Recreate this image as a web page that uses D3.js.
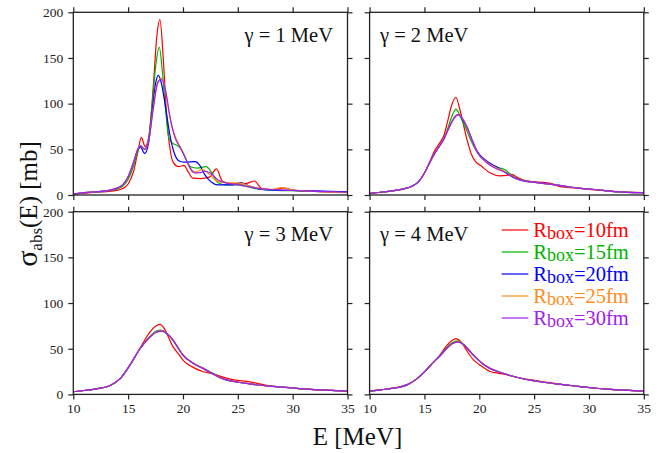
<!DOCTYPE html>
<html>
<head>
<meta charset="utf-8">
<script src="https://cdn.jsdelivr.net/npm/d3@7"></script>
<style>
  body { margin: 0; background: #fff; }
  svg { display: block; font-family: "Liberation Serif", "DejaVu Serif", "Times New Roman", serif; }
</style>
</head>
<body>
<svg id="chart" width="672" height="453"></svg>
<script>
// axis ticks
const xTicks = [10, 15, 20, 25, 30, 35];
const yTicks = [0, 50, 100, 150, 200];

// legend
const boxSizes = [10, 15, 20, 25, 30];
const colors = ["#ff0000", "#00b400", "#0000ff", "#ff8c1a", "#a020f0"];
const gammas = [1, 2, 3, 4];

// gamma = 1 MeV  [E, sigma]
const g1_r10 = [[10,1],[11,2],[12,3],[13,3.8],[14,5],[14.5,7],[15,12],[15.5,26],[15.9,48],[16.2,63],[16.55,53],[16.9,65],[17.3,120],[17.6,172],[17.9,192],[18.2,150],[18.5,88],[18.8,52],[19.1,36],[19.6,31],[20.1,32.5],[20.4,27],[20.9,18.5],[21.6,18],[22.4,19.5],[23.05,28.5],[23.6,15],[24.3,12.5],[25.3,12],[25.9,13],[26.5,15.3],[27.2,7],[28.2,5.8],[29.2,7.5],[30.2,5],[32,4],[35,3]];
const g1_r15 = [[10,1],[11,2.2],[12,3.5],[13,4.3],[14,6.5],[14.5,9.5],[15,17],[15.5,32],[15.95,50],[16.2,53],[16.5,50],[16.85,60],[17.2,100],[17.55,145],[17.84,162],[18.1,138],[18.4,95],[18.7,63],[19,57],[19.5,54],[19.9,49],[20.3,38],[20.7,31],[21.3,29.5],[22.1,31],[22.6,25],[23.2,13.5],[24,11],[25.2,11],[26.2,8],[27.2,6],[28.5,5],[30.5,4.5],[32,4],[35,2.8]];
const g1_r20 = [[10,1],[11,2.5],[12,3.5],[13,4.5],[14,7.5],[14.5,11],[15,20],[15.5,36],[15.9,50],[16.1,53],[16.5,45.5],[16.85,56],[17.2,92],[17.5,122],[17.75,131],[18,124],[18.4,97],[18.8,66],[19.2,46],[19.7,37],[20.2,36],[21.1,36.5],[21.5,33],[22,22],[22.6,14],[23.2,11],[24.5,11],[25.3,13.5],[26,10],[27,6.5],[28,5.5],[30,5],[32,4.5],[35,3.5]];
const g1_r25 = [[10,1],[11,2.5],[12,3.5],[13,4.5],[14,7.5],[14.5,11],[15,20],[15.5,36],[15.9,51],[16.1,54],[16.5,50],[16.85,58],[17.25,92],[17.65,122],[18,128],[18.3,121],[18.7,92],[19.2,67],[19.6,56],[20.2,42],[20.6,30],[20.9,25],[21.3,25.5],[21.75,28],[22.2,25],[23.2,14.6],[24,13.5],[25.3,13],[26,10],[27,7],[28,6],[29,8],[30,5.5],[32,4],[35,2.5]];
const g1_r30 = [[10,1],[11,2.5],[12,3.5],[13,4.5],[14,7.5],[14.5,11],[15,20],[15.5,36],[15.9,51],[16.1,54],[16.5,50],[16.85,58],[17.3,95],[17.7,123],[18.05,127],[18.4,115],[18.9,80],[19.3,62],[19.7,53],[20.2,41],[20.6,31],[21.1,24],[21.6,24.5],[22,26],[22.5,24],[23.2,16.5],[24,13],[25,11],[26,9],[27,7],[28,6],[30,5],[32,4],[35,3]];

// gamma = 2 MeV
const g2_r10 = [[10,1.8],[11,3],[12,4.5],[13,6.5],[14,10.5],[14.5,15],[15,24],[15.5,37],[16,50],[16.4,57],[16.8,66],[17.1,80],[17.5,99],[17.87,107],[18.2,95],[18.5,80],[18.85,62],[19.3,44],[19.7,36],[20.1,32.5],[21,24],[21.9,21],[22.5,21.5],[22.95,22.5],[23.5,19],[24.1,16],[25,14.5],[26,13.5],[26.6,12.5],[27.3,9.5],[28,8.4],[29.2,7.3],[30.5,5.5],[32.3,4],[35,2.5]];
const g2_r15 = [[10,1.8],[11,3],[12,4.5],[13,6.5],[14,10.5],[14.5,15],[15,24],[15.5,36],[16,47],[16.4,54],[16.8,62],[17.1,72],[17.5,86],[17.87,94],[18.2,88],[18.5,80],[18.85,71],[19.3,58],[19.8,47],[20.7,36],[21.6,30.5],[22.35,27.7],[22.9,22],[23.4,18.2],[24.2,15.5],[24.9,14],[26.4,12],[28,9.2],[29.2,7.3],[30.5,6],[32.3,3.8],[35,2.5]];
const g2_r20 = [[10,1.8],[11,3],[12,4.5],[13,6.5],[14,10.5],[14.5,15],[15,24],[15.5,36],[16,47],[16.4,54],[16.8,62],[17.1,70],[17.5,80],[17.9,87],[18.1,88],[18.5,82],[18.9,74],[19.3,62],[19.8,48],[20.7,37],[21.6,30.5],[22.35,25],[22.9,20.5],[23.4,17.5],[24.2,15],[24.9,14],[26.4,12],[28,9.2],[29.2,7.3],[30.5,6],[32.3,3.8],[35,2.5]];
const g2_r25 = [[10,1.8],[11,3],[12,4.5],[13,6.5],[14,10.5],[14.5,15],[15,24],[15.5,36],[16,47],[16.4,54],[16.8,62],[17.1,70],[17.5,80],[17.9,87],[18.1,88],[18.5,83],[18.9,74],[19.3,61],[19.8,47],[20.7,36],[21.6,29.5],[22.35,25.5],[22.9,21],[23.4,18],[24.2,15.5],[24.9,14],[26.4,12],[28,9.2],[29.2,7.3],[30.5,6],[32.3,3.8],[35,2.5]];
const g2_r30 = [[10,1.8],[11,3],[12,4.5],[13,6.5],[14,10.5],[14.5,15],[15,24],[15.5,36],[16,47],[16.4,54],[16.8,62],[17.1,70],[17.5,80],[17.9,87],[18.1,88],[18.5,83],[18.9,74],[19.3,61],[19.8,47],[20.7,35],[21.6,28.5],[22.35,25],[22.9,21],[23.4,18],[24.2,15.5],[24.9,14],[26.4,12],[28,9.2],[29.2,7.3],[30.5,6],[32.3,3.8],[35,2.5]];

// gamma = 3 MeV
const g3_r10 = [[10,2.9],[11,4.3],[12,5.8],[12.5,6.8],[13.3,9.5],[14.25,17],[15.16,32],[16.08,50.5],[17,68.5],[17.5,74.5],[17.9,76.7],[18.3,72],[18.7,62],[19.1,52],[19.6,44],[20,37.6],[20.5,32.5],[20.93,29.6],[21.85,24.8],[22.75,22.5],[23.5,19.5],[24.3,16.8],[25.2,15],[26.1,13.8],[27,11.5],[27.9,9.4],[29,8],[29.7,7.3],[31.6,5.5],[33.5,4.3],[35,3.6]];
const g3_r15 = [[10,2.9],[11,4.3],[12,5.8],[12.5,6.8],[13.3,9.5],[14.25,17],[15.16,32],[16.08,50],[17,63.5],[17.6,69.5],[17.95,70.5],[18.4,67.5],[19.1,59],[19.5,51.5],[20,43],[20.93,34],[21.85,28.5],[22.75,23],[23.5,18],[24.3,15],[25.2,13],[26.1,11.5],[27,10],[27.9,9],[29,8],[29.7,7.3],[31.6,5.5],[33.5,4.3],[35,3.6]];
const g3_r20 = [[10,2.9],[11,4.3],[12,5.8],[12.5,6.8],[13.3,9.5],[14.25,17],[15.16,32],[16.08,50],[17,63],[17.6,68.5],[18.1,69.5],[18.5,67],[19.1,59.5],[19.5,52],[20,43],[20.93,34],[21.85,28],[22.75,22],[23.5,17.5],[24.3,14.8],[25.2,13],[26.1,11.5],[27,10],[27.9,9],[29,8],[29.7,7.3],[31.6,5.5],[33.5,4.3],[35,3.6]];
const g3_r25 = [[10,2.9],[11,4.3],[12,5.8],[12.5,6.8],[13.3,9.5],[14.25,17],[15.16,32],[16.08,50],[17,63],[17.6,68.5],[18.1,69.5],[18.5,67],[19.1,59.5],[19.5,52],[20,43],[20.93,34],[21.85,28.5],[22.75,22.2],[23.5,17.8],[24.3,15],[25.2,13],[26.1,11.5],[27,10],[27.9,9],[29,8],[29.7,7.3],[31.6,5.5],[33.5,4.3],[35,3.6]];
const g3_r30 = [[10,2.9],[11,4.3],[12,5.8],[12.5,6.8],[13.3,9.5],[14.25,17],[15.16,32],[16.08,50],[17,63],[17.6,68.3],[18.15,69.3],[18.5,67],[19.1,59.5],[19.5,52],[20,43],[20.93,34],[21.85,28.5],[22.75,22.5],[23.5,18],[24.3,15],[25.2,13],[26.1,11.5],[27,10],[27.9,9],[29,8],[29.7,7.3],[31.6,5.5],[33.5,4.3],[35,3.6]];

// gamma = 4 MeV
const g4_r10 = [[10,3.6],[11,5],[12,6.5],[12.74,8],[13.5,11],[14.3,17],[15.03,25],[15.8,35],[16.4,43],[17,53],[17.5,59],[17.87,61],[18.3,58],[18.8,49],[19.45,38],[20.2,31],[20.98,25],[21.8,23],[22.5,21.5],[23.5,18.5],[24.9,15.7],[26,13.5],[27.4,11.3],[28.5,9.5],[30.1,7.3],[32,5.5],[35,3.6]];
const g4_r15 = [[10,3.6],[11,5],[12,6.5],[12.74,8],[13.5,11],[14.3,17],[15.03,25],[15.8,35],[16.4,42.5],[17,51],[17.6,57],[18,58.5],[18.5,55.5],[19.45,43],[20.37,33],[20.98,28.5],[21.8,24.5],[22.5,21.8],[23.5,18.5],[24.9,15],[26,13],[27.4,11],[28.5,9.5],[30.1,7.3],[32,5.5],[35,3.6]];
const g4_r20 = [[10,3.6],[11,5],[12,6.5],[12.74,8],[13.5,11],[14.3,17],[15.03,25],[15.8,35],[16.4,42],[17,50],[17.6,56],[18.1,57.5],[18.6,54],[19.45,43],[20.37,33],[20.98,28.5],[21.8,24.5],[22.5,21.8],[23.5,18.5],[24.9,15],[26,13],[27.4,11],[28.5,9.5],[30.1,7.3],[32,5.5],[35,3.6]];
const g4_r25 = [[10,3.6],[11,5],[12,6.5],[12.74,8],[13.5,11],[14.3,17],[15.03,25],[15.8,35],[16.4,42],[17,50],[17.6,56],[18.1,57.5],[18.6,54],[19.45,43.5],[20.37,33],[20.98,28.5],[21.8,24.5],[22.5,21.8],[23.5,18.5],[24.9,15],[26,13],[27.4,11],[28.5,9.5],[30.1,7.3],[32,5.5],[35,3.6]];
const g4_r30 = [[10,3.6],[11,5],[12,6.5],[12.74,8],[13.5,11],[14.3,17],[15.03,25],[15.8,35],[16.4,42],[17,50],[17.6,56],[18.15,57.3],[18.6,54],[19.45,43.5],[20.37,33],[20.98,28.5],[21.8,24.5],[22.5,21.8],[23.5,18.5],[24.9,15],[26,13],[27.4,11],[28.5,9.5],[30.1,7.3],[32,5.5],[35,3.6]];

const panelSeries = [
  [g1_r10, g1_r15, g1_r20, g1_r25, g1_r30],
  [g2_r10, g2_r15, g2_r20, g2_r25, g2_r30],
  [g3_r10, g3_r15, g3_r20, g3_r25, g3_r30],
  [g4_r10, g4_r15, g4_r20, g4_r25, g4_r30]
];

// layout
const colX = [73.3, 369.6];
const rowY = [12.3, 211.7];
const pw = 274.2, ph = 182.7;
const ink = "#222";
const serif = "'Liberation Serif', 'DejaVu Serif', 'Times New Roman', serif";

const svg = d3.select("#chart");

const x = d3.scaleLinear().domain([10, 35]).range([0, pw]);
const y = d3.scaleLinear().domain([0, 200]).range([ph, 0]);

const line = d3.line()
  .x(d => x(d[0]))
  .y(d => y(d[1]))
  .curve(d3.curveMonotoneX);

function styleAxis(g) {
  g.select(".domain").remove();
  g.selectAll(".tick line").attr("stroke", ink).attr("stroke-width", 1.2);
  g.selectAll(".tick text")
    .attr("fill", ink)
    .attr("font-family", serif)
    .attr("font-size", 13.5);
}

panelSeries.forEach((series, i) => {
  const col = i % 2, row = Math.floor(i / 2);
  const g = svg.append("g")
    .attr("transform", "translate(" + colX[col] + "," + rowY[row] + ")");

  g.append("g")
    .call(d3.axisLeft(y).tickValues(yTicks).tickSize(5).tickSizeOuter(0).tickPadding(5)
      .tickFormat(col === 0 ? d3.format("d") : ""))
    .call(styleAxis);
  g.append("g")
    .attr("transform", "translate(" + pw + ",0)")
    .call(d3.axisRight(y).tickValues(yTicks).tickSize(5).tickSizeOuter(0).tickFormat(""))
    .call(styleAxis);
  g.append("g")
    .attr("transform", "translate(0," + ph + ")")
    .call(d3.axisBottom(x).tickValues(xTicks).tickSize(5).tickSizeOuter(0).tickPadding(4)
      .tickFormat(row === 1 ? d3.format("d") : ""))
    .call(styleAxis);
  g.append("g")
    .call(d3.axisTop(x).tickValues(xTicks).tickSize(5).tickSizeOuter(0).tickFormat(""))
    .call(styleAxis);

  g.selectAll("path.curve")
    .data(series)
    .join("path")
    .attr("class", "curve")
    .attr("d", line)
    .attr("fill", "none")
    .attr("stroke", (d, k) => colors[k])
    .attr("stroke-width", 1.2);

  g.append("rect")
    .attr("width", pw)
    .attr("height", ph)
    .attr("fill", "none")
    .attr("stroke", ink)
    .attr("stroke-width", 1.3);

  // gamma label
  g.append("text")
    .attr("x", col === 0 ? pw - 14.5 : 10.4)
    .attr("y", 29.4)
    .attr("text-anchor", col === 0 ? "end" : "start")
    .attr("fill", "#111")
    .attr("font-family", serif)
    .attr("font-size", 20.5)
    .text("\u03b3 = " + gammas[i] + " MeV");

  // legend in last panel
  if (i === 3) {
    const leg = g.selectAll("g.leg")
      .data(boxSizes)
      .join("g")
      .attr("class", "leg")
      .attr("transform", (d, k) => "translate(132.1," + (18.3 + k * 22) + ")");
    leg.append("line")
      .attr("x1", 0).attr("x2", 26.6)
      .attr("stroke", (d, k) => colors[k])
      .attr("stroke-width", 1.2);
    const t = leg.append("text")
      .attr("x", 31.6)
      .attr("y", 7)
      .attr("fill", (d, k) => colors[k])
      .attr("font-family", serif)
      .attr("font-size", 20.5);
    t.append("tspan").text("R");
    t.append("tspan").attr("dy", 2).attr("font-size", 18).text("box");
    t.append("tspan").attr("dy", -2).text(d => "=" + d + "fm");
  }
});

// axis titles
svg.append("text")
  .attr("x", 357.5)
  .attr("y", 445)
  .attr("text-anchor", "middle")
  .attr("fill", "#111")
  .attr("font-family", serif)
  .attr("font-size", 25)
  .text("E [MeV]");

const yl = svg.append("text")
  .attr("transform", "translate(37,204) rotate(-90)")
  .attr("text-anchor", "middle")
  .attr("fill", "#111")
  .attr("font-family", serif)
  .attr("font-size", 25);
yl.append("tspan").attr("font-size", 30).text("\u03c3");
yl.append("tspan").attr("dy", 5).attr("font-size", 17).text("abs");
yl.append("tspan").attr("dy", -5).text("(E) [mb]");
</script>
</body>
</html>
